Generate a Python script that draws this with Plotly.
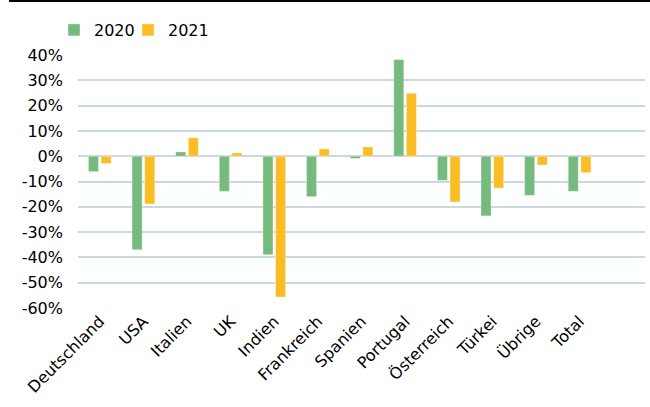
import plotly.graph_objects as go

# Categories and year-over-year changes (fractions)
categories = ["Deutschland", "USA", "Italien", "UK", "Indien", "Frankreich",
              "Spanien", "Portugal", "Österreich", "Türkei", "Übrige", "Total"]
values_2020 = [-0.061, -0.370, 0.017, -0.139, -0.390, -0.160,
               -0.009, 0.382, -0.096, -0.236, -0.155, -0.139]
values_2021 = [-0.029, -0.189, 0.073, 0.013, -0.557, 0.029,
               0.037, 0.249, -0.181, -0.126, -0.035, -0.065]
y_ticks = [0.4, 0.3, 0.2, 0.1, 0.0, -0.1, -0.2, -0.3, -0.4, -0.5, -0.6]
y_tick_labels = ["40%", "30%", "20%", "10%", "0%", "-10%", "-20%",
                 "-30%", "-40%", "-50%", "-60%"]

GREEN = "#76BA7D"
YELLOW = "#FBBD26"
GRID = "#CAD9DF"
FONT = "DejaVu Sans, Liberation Sans, Arial, sans-serif"

W, H = 650, 407
L, R, T, B = 78, 5, 55, 99
plot_w, plot_h = W - L - R, H - T - B

fig = go.Figure()
fig.add_trace(go.Bar(name="2020", x=categories, y=values_2020, legend="legend",
                     marker=dict(color=GREEN, line=dict(color="rgba(255,255,255,0.5)", width=0.8))))
fig.add_trace(go.Bar(name="2021", x=categories, y=values_2021, legend="legend2",
                     marker=dict(color=YELLOW, line=dict(color="rgba(255,255,255,0.5)", width=0.8))))

legend_style = dict(orientation="h", xref="container", yref="container",
                    xanchor="left", yanchor="middle", font=dict(size=16, color="#000000"),
                    itemwidth=30, bgcolor="rgba(0,0,0,0)", borderwidth=0)

fig.update_layout(
    width=W, height=H,
    margin=dict(l=L, r=R, t=T, b=B, pad=0),
    paper_bgcolor="white", plot_bgcolor="white",
    barmode="group", bargap=0.42, bargroupgap=0.2,
    font=dict(family=FONT, size=16, color="#000000"),
    showlegend=True,
    legend=dict(x=54 / W, y=1 - 30 / H, **legend_style),
    legend2=dict(x=128 / W, y=1 - 30 / H, **legend_style),
    xaxis=dict(range=[-0.5, 12.5], tickangle=-45, showgrid=False, zeroline=False,
               showline=False, ticks="", automargin=False,
               tickfont=dict(size=16, color="#000000")),
    yaxis=dict(range=[-0.6, 0.4], tickvals=y_ticks, ticktext=y_tick_labels,
               showgrid=True, gridcolor=GRID, gridwidth=1.5,
               zeroline=True, zerolinecolor=GRID, zerolinewidth=1.5,
               showline=False, ticks="", automargin=False,
               ticklabelstandoff=14, tickfont=dict(size=16, color="#000000")),
    # thin black rule along the top edge
    shapes=[dict(type="line", xref="paper", yref="paper",
                 x0=(9 - L) / plot_w, x1=(W - L) / plot_w,
                 y0=(H - B - 1) / plot_h, y1=(H - B - 1) / plot_h,
                 line=dict(color="black", width=2))],
)

fig.write_html("out.html")
